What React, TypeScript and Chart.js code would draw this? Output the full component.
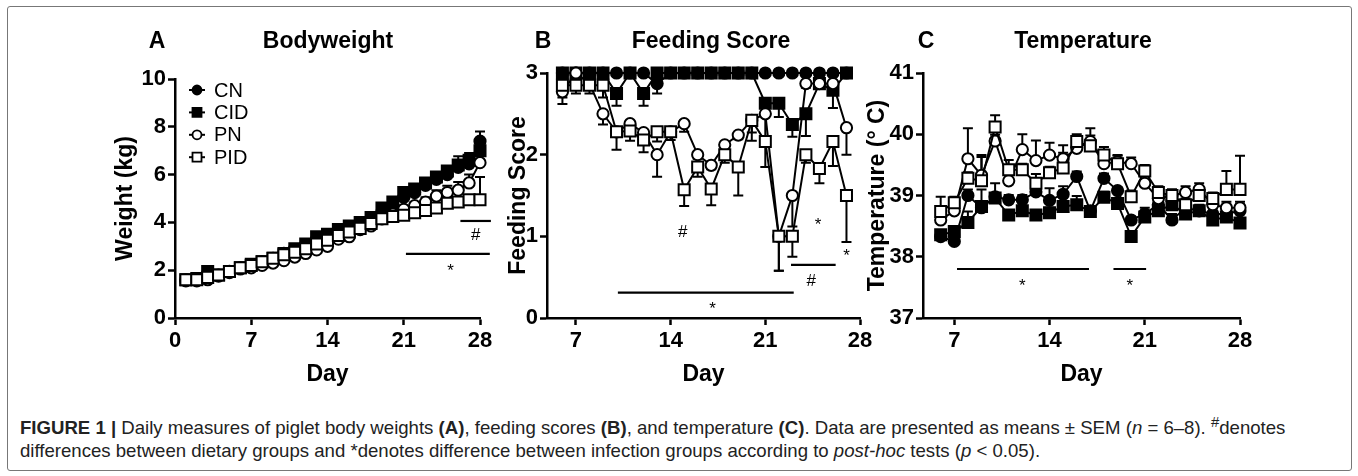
import React, { useEffect, useRef } from "react";
import { Chart, registerables } from "chart.js";
Chart.register(...registerables);

const SANS = '"Liberation Sans", Arial, Helvetica, sans-serif';

// ---------------- Panel A: Bodyweight (kg) ----------------
const daysA = [1, 2, 3, 4, 5, 6, 7, 8, 9, 10, 11, 12, 13, 14, 15, 16, 17, 18, 19, 20, 21, 22, 23, 24, 25, 26, 27, 28];
const cnWeight = [1.6, 1.6, 1.8, 1.8, 1.95, 2.1, 2.2, 2.35, 2.5, 2.7, 2.85, 3.05, 3.3, 3.4, 3.6, 3.75, 3.9, 4.15, 4.45, 4.7, 5.05, 5.25, 5.55, 5.8, 6.0, 6.3, 6.45, 7.4];
const cidWeight = [1.6, 1.65, 1.95, 1.8, 1.95, 2.1, 2.25, 2.35, 2.5, 2.7, 2.9, 3.1, 3.4, 3.5, 3.7, 3.85, 4.0, 4.2, 4.6, 4.85, 5.25, 5.4, 5.65, 5.9, 6.15, 6.4, 6.6, 7.0];
const pnWeight = [1.55, 1.55, 1.6, 1.75, 1.9, 2.05, 2.1, 2.2, 2.3, 2.4, 2.55, 2.7, 2.85, 3.0, 3.3, 3.4, 3.7, 3.85, 4.15, 4.35, 4.55, 4.7, 4.85, 5.1, 5.25, 5.35, 5.65, 6.5];
const pidWeight = [1.6, 1.6, 1.7, 1.8, 1.95, 2.1, 2.2, 2.35, 2.5, 2.65, 2.75, 2.9, 3.1, 3.25, 3.45, 3.6, 3.75, 3.95, 4.15, 4.25, 4.3, 4.4, 4.5, 4.6, 4.8, 4.85, 4.95, 4.95];
const cnWeightSem = [0.05, 0.05, 0.05, 0.05, 0.05, 0.05, 0.05, 0.05, 0.05, 0.05, 0.05, 0.05, 0.05, 0.05, 0.05, 0.05, 0.05, 0.05, 0.1, 0.1, 0.1, 0.1, 0.1, 0.15, 0.2, 0.3, 0.35, 0.4];
const cidWeightSem = [0.05, 0.05, 0.05, 0.05, 0.05, 0.05, 0.05, 0.05, 0.05, 0.05, 0.05, 0.05, 0.05, 0.05, 0.05, 0.05, 0.05, 0.05, 0.1, 0.1, 0.1, 0.1, 0.1, 0.15, 0.2, 0.37, 0.3, 0.35];
const pnWeightSem = [0.05, 0.05, 0.05, 0.05, 0.05, 0.05, 0.05, 0.05, 0.05, 0.05, 0.05, 0.05, 0.05, 0.05, 0.05, 0.05, 0.05, 0.05, 0.1, 0.1, 0.1, 0.15, 0.2, 0.25, 0.28, 0.34, 0.35, 0.3];
const pidWeightSem = [0.05, 0.05, 0.05, 0.05, 0.05, 0.05, 0.05, 0.05, 0.05, 0.05, 0.05, 0.05, 0.05, 0.05, 0.05, 0.05, 0.05, 0.05, 0.1, 0.1, 0.1, 0.1, 0.1, 0.1, 0.1, 0.1, 0.2, 0.95];
const weightTicksX = [0, 7, 14, 21, 28];
const weightTicksY = [0, 2, 4, 6, 8, 10];

// ---------------- Panel B: Feeding score ----------------
const daysB = [6, 7, 8, 9, 10, 11, 12, 13, 14, 15, 16, 17, 18, 19, 20, 21, 22, 23, 24, 25, 26, 27];
const cnFeed = [3, 3, 3, 3, 3, 3, 3, 2.87, 3, 3, 3, 3, 3, 3, 3, 3, 3, 3, 3, 3, 3, 3];
const cidFeed = [3, 3, 3, 3, 2.75, 3, 2.75, 3, 3, 3, 3, 3, 3, 3, 3, 2.63, 2.63, 2.37, 2.5, 2.87, 2.79, 3];
const pnFeed = [2.77, 3, 2.87, 2.5, 2.28, 2.38, 2.27, 2.0, 2.28, 2.38, 2.0, 1.87, 2.12, 2.24, 2.42, 2.5, 1.0, 1.5, 2.87, 2.87, 2.87, 2.33];
const pidFeed = [2.85, 2.85, 2.85, 2.85, 2.28, 2.29, 2.18, 2.28, 2.28, 1.57, 1.85, 1.58, 2.0, 1.85, 2.42, 2.16, 1.0, 1.0, 2.0, 1.83, 2.16, 1.5];
const cnFeedSem = [0, 0, 0, 0, 0, 0, 0, 0.12, 0, 0, 0, 0, 0, 0, 0, 0, 0, 0, 0, 0, 0, 0];
const cidFeedSem = [0, 0, 0, 0, 0.15, 0, 0.15, 0, 0, 0, 0, 0, 0, 0, 0, 0.1, 0.17, 0.15, 0.27, 0.05, 0.22, 0];
const pnFeedSem = [0.15, 0, 0.05, 0.13, 0.05, 0.05, 0.05, 0.27, 0.05, 0.1, 0.05, 0.05, 0.05, 0.05, 0.15, 0.3, 0.42, 0.38, 0.05, 0.05, 0.05, 0.33];
const pidFeedSem = [0.15, 0.1, 0.1, 0.15, 0.22, 0.12, 0.15, 0.12, 0.1, 0.2, 0.12, 0.2, 0.1, 0.35, 0.25, 0.31, 0.42, 0.25, 0.1, 0.18, 0.3, 0.57];
const feedTicksX = [7, 14, 21, 28];
const feedTicksY = [0, 1, 2, 3];

// ---------------- Panel C: Temperature ----------------
const daysC = [6, 7, 8, 9, 10, 11, 12, 13, 14, 15, 16, 17, 18, 19, 20, 21, 22, 23, 24, 25, 26, 27, 28];
const cnTemp = [38.33, 38.25, 39.0, 38.8, 38.98, 38.93, 38.93, 39.06, 38.92, 39.02, 39.31, 38.75, 39.28, 39.08, 38.6, 38.7, 38.85, 38.6, 38.8, 38.75, 38.7, 38.7, 38.75];
const cidTemp = [38.36, 38.41, 38.56, 38.82, 38.96, 38.68, 38.75, 38.68, 38.72, 38.82, 38.85, 38.74, 38.97, 38.87, 38.33, 38.65, 38.75, 38.85, 38.7, 38.75, 38.6, 38.65, 38.55];
const pnTemp = [38.6, 38.75, 39.6, 39.33, 39.89, 39.24, 39.75, 39.57, 39.66, 39.6, 39.77, 39.88, 39.52, 39.55, 39.52, 39.2, 38.95, 39.0, 39.05, 39.1, 38.85, 38.8, 38.8];
const pidTemp = [38.74, 38.88, 39.28, 39.24, 40.12, 39.42, 39.42, 39.2, 39.37, 39.45, 39.88, 39.81, 39.66, 39.52, 38.98, 39.4, 39.05, 39.0, 38.85, 39.0, 38.95, 39.1, 39.1];
const cnTempSem = [0.05, 0.05, 0.1, 0.1, 0.22, 0.08, 0.08, 0.08, 0.2, 0.13, 0.08, 0.08, 0.08, 0.05, 0.05, 0.1, 0.1, 0.1, 0.1, 0.1, 0.1, 0.1, 0.1];
const cidTempSem = [0.05, 0.05, 0.18, 0.28, 0.08, 0.08, 0.08, 0.08, 0.08, 0.08, 0.14, 0.08, 0.09, 0.08, 0.08, 0.08, 0.08, 0.08, 0.08, 0.08, 0.08, 0.08, 0.08];
const pnTempSem = [0.05, 0.1, 0.5, 0.3, 0.1, 0.1, 0.25, 0.33, 0.2, 0.1, 0.05, 0.1, 0.1, 0.1, 0.1, 0.2, 0.1, 0.1, 0.1, 0.1, 0.1, 0.1, 0.1];
const pidTempSem = [0.24, 0.1, 0.1, 0.42, 0.19, 0.16, 0.1, 0.15, 0.1, 0.37, 0.12, 0.29, 0.13, 0.14, 0.1, 0.1, 0.1, 0.1, 0.1, 0.1, 0.1, 0.3, 0.55];
const tempTicksX = [7, 14, 21, 28];
const tempTicksY = [37, 38, 39, 40, 41];

// ---------------- Groups & significance marks ----------------
const groupNames = ["CN", "CID", "PN", "PID"];
const groupShapes = ["circle", "rect", "circle", "rect"];
const groupFilled = [true, true, false, false];

const sigLinesA = [{ x1: 26.2, x2: 29.0, y: 4.06 }, { x1: 21.2, x2: 28.9, y: 2.68 }];
const sigTextA = [{ x: 27.6, y: 3.47, t: "#" }, { x: 25.3, y: 2.13, t: "*" }];
const sigLinesB = [{ x1: 10.1, x2: 23.1, y: 0.31 }, { x1: 22.9, x2: 26.2, y: 0.65 }];
const sigTextB = [
  { x: 17.1, y: 0.16, t: "*" }, { x: 14.9, y: 1.05, t: "#" }, { x: 24.4, y: 0.45, t: "#" },
  { x: 24.9, y: 1.18, t: "*" }, { x: 27.0, y: 0.8, t: "*" },
];
const sigLinesC = [{ x1: 7.2, x2: 16.9, y: 37.8 }, { x1: 18.7, x2: 21.1, y: 37.8 }];
const sigTextC = [{ x: 12.0, y: 37.59, t: "*" }, { x: 19.9, y: 37.59, t: "*" }];

function drawMark(ctx: CanvasRenderingContext2D, shape: string, filled: boolean, x: number, y: number, s: number) {
  ctx.beginPath();
  if (shape === "circle") ctx.arc(x, y, s / 2, 0, Math.PI * 2);
  else ctx.rect(x - s / 2, y - s / 2, s, s);
  ctx.fillStyle = filled ? "#000" : "#fff";
  ctx.fill();
  ctx.lineWidth = 1.8;
  ctx.strokeStyle = "#000";
  ctx.stroke();
}

const errorBarPlugin = {
  id: "errbars",
  beforeDatasetsDraw(chart: any, _a: any, opts: any) {
    const ctx = chart.ctx;
    const ys = chart.scales.y;
    const dir = opts.dir || 1;
    ctx.save();
    ctx.strokeStyle = "#000";
    ctx.lineWidth = 2;
    chart.data.datasets.forEach((ds: any, i: number) => {
      const meta = chart.getDatasetMeta(i);
      meta.data.forEach((pt: any, j: number) => {
        const e = ds.sem ? ds.sem[j] : 0;
        if (!e) return;
        const v = ds.data[j].y;
        const y2 = ys.getPixelForValue(v + dir * e);
        ctx.beginPath();
        ctx.moveTo(pt.x, pt.y);
        ctx.lineTo(pt.x, y2);
        ctx.moveTo(pt.x - 5, y2);
        ctx.lineTo(pt.x + 5, y2);
        ctx.stroke();
      });
    });
    ctx.restore();
  },
};

const annotPlugin = {
  id: "annot",
  afterDraw(chart: any, _a: any, o: any) {
    const ctx = chart.ctx;
    const xs = chart.scales.x;
    const ys = chart.scales.y;
    const ca = chart.chartArea;
    ctx.save();
    ctx.fillStyle = "#000";
    ctx.strokeStyle = "#000";
    ctx.textAlign = "center";
    ctx.textBaseline = "middle";
    ctx.font = `bold 23px ${SANS}`;
    ctx.fillText(o.letter, o.letterX - o.ox, o.titleY - o.oy);
    ctx.fillText(o.title, o.titleX - o.ox, o.titleY - o.oy);
    ctx.fillText("Day", (ca.left + ca.right) / 2, o.dayY - o.oy);
    ctx.save();
    ctx.translate(o.yTitleX - o.ox, (ca.top + ca.bottom) / 2);
    ctx.rotate(-Math.PI / 2);
    ctx.fillText(o.yTitle, 0, 0);
    ctx.restore();
    // significance lines
    ctx.lineWidth = 2.2;
    (o.lines || []).forEach((l: any) => {
      const y = ys.getPixelForValue(l.y);
      ctx.beginPath();
      ctx.moveTo(xs.getPixelForValue(l.x1), y);
      ctx.lineTo(xs.getPixelForValue(l.x2), y);
      ctx.stroke();
    });
    ctx.font = `17px ${SANS}`;
    (o.texts || []).forEach((t: any) => {
      const dy = t.t === "*" ? 4 : 0;
      ctx.fillText(t.t, xs.getPixelForValue(t.x), ys.getPixelForValue(t.y) + dy);
    });
    // legend
    if (o.legend) {
      ctx.textAlign = "left";
      ctx.font = `20px ${SANS}`;
      groupNames.forEach((n, i) => {
        const y = o.legend.y0 + i * o.legend.dy - o.oy;
        const x = o.legend.x - o.ox;
        ctx.lineWidth = 2;
        ctx.beginPath();
        ctx.moveTo(x - 8, y);
        ctx.lineTo(x + 8, y);
        ctx.stroke();
        drawMark(ctx, groupShapes[i], groupFilled[i], x, y, 9);
        ctx.fillStyle = "#000";
        ctx.fillText(n, x + 17, y + 1);
      });
    }
    ctx.restore();
  },
};

type Panel = {
  box: { left: number; top: number; width: number; height: number };
  area: { L: number; R: number; T: number; B: number };
  days: number[];
  series: number[][];
  sems: number[][];
  dir: number;
  xMin: number; xMax: number; yMin: number; yMax: number;
  xTicks: number[]; yTicks: number[];
  annot: any;
};

function makeChart(canvas: HTMLCanvasElement, p: Panel) {
  const order = [3, 2, 1, 0];
  const datasets = p.series.map((vals, i) => {
    const circle = groupShapes[i] === "circle";
    return {
      label: groupNames[i],
      data: vals.map((v, j) => ({ x: p.days[j], y: v })),
      sem: p.sems[i],
      borderColor: "#000",
      borderWidth: 2,
      backgroundColor: groupFilled[i] ? "#000" : "#fff",
      pointStyle: circle ? "circle" : "rect",
      pointRadius: circle ? 5.6 : 7.8,
      pointBorderWidth: 2,
      pointBorderColor: "#000",
      pointBackgroundColor: groupFilled[i] ? "#000" : "#fff",
      tension: 0,
      clip: false,
      order: order[i],
    };
  });
  const tickFont = { family: SANS, size: 22, weight: "bold" as const };
  const grid = { display: true, drawOnChartArea: false, drawTicks: true, tickLength: 7, tickColor: "#000", tickWidth: 2.5, color: "#000" };
  const border = { display: true, color: "#000", width: 2.5 };
  const ox = p.box.left, oy = p.box.top;
  return new Chart(canvas, {
    type: "line",
    data: { datasets: datasets as any },
    options: {
      animation: false,
      responsive: false,
      maintainAspectRatio: false,
      layout: { padding: { top: p.area.T - oy, right: ox + p.box.width - p.area.R, left: 0, bottom: 0 } },
      plugins: {
        legend: { display: false },
        tooltip: { enabled: false },
        title: { display: false },
        errbars: { dir: p.dir },
        annot: { ...p.annot, ox, oy },
      } as any,
      scales: {
        x: {
          type: "linear",
          min: p.xMin,
          max: p.xMax,
          afterBuildTicks: (s: any) => { s.ticks = p.xTicks.map((v) => ({ value: v })); },
          afterFit: (s: any) => { s.height = oy + p.box.height - p.area.B; },
          ticks: { color: "#000", font: tickFont, padding: 3, maxRotation: 0, autoSkip: false },
          grid, border,
        },
        y: {
          type: "linear",
          min: p.yMin,
          max: p.yMax,
          afterBuildTicks: (s: any) => { s.ticks = p.yTicks.map((v) => ({ value: v })); },
          afterFit: (s: any) => { s.width = p.area.L - ox; },
          ticks: { color: "#000", font: tickFont, padding: 2, autoSkip: false },
          grid, border,
        },
      },
    } as any,
    plugins: [errorBarPlugin, annotPlugin],
  });
}

const panels: Panel[] = [
  {
    box: { left: 95, top: 20, width: 405, height: 375 },
    area: { L: 175, R: 480, T: 79, B: 318 },
    days: daysA,
    series: [cnWeight, cidWeight, pnWeight, pidWeight],
    sems: [cnWeightSem, cidWeightSem, pnWeightSem, pidWeightSem],
    dir: 1,
    xMin: 0, xMax: 28, yMin: 0, yMax: 10,
    xTicks: weightTicksX, yTicks: weightTicksY,
    annot: {
      letter: "A", letterX: 157, title: "Bodyweight", titleX: 328, titleY: 42, dayY: 375,
      yTitle: "Weight (kg)", yTitleX: 126,
      lines: sigLinesA, texts: sigTextA,
      legend: { x: 197, y0: 90, dy: 22.4 },
    },
  },
  {
    box: { left: 490, top: 20, width: 390, height: 375 },
    area: { L: 547, R: 860, T: 73, B: 318 },
    days: daysB,
    series: [cnFeed, cidFeed, pnFeed, pidFeed],
    sems: [cnFeedSem, cidFeedSem, pnFeedSem, pidFeedSem],
    dir: -1,
    xMin: 4.86, xMax: 28, yMin: 0, yMax: 3,
    xTicks: feedTicksX, yTicks: feedTicksY,
    annot: {
      letter: "B", letterX: 543, title: "Feeding Score", titleX: 711, titleY: 42, dayY: 375,
      yTitle: "Feeding Score", yTitleX: 519,
      lines: sigLinesB, texts: sigTextB,
    },
  },
  {
    box: { left: 860, top: 20, width: 400, height: 375 },
    area: { L: 923, R: 1240, T: 73, B: 318 },
    days: daysC,
    series: [cnTemp, cidTemp, pnTemp, pidTemp],
    sems: [cnTempSem, cidTempSem, pnTempSem, pidTempSem],
    dir: 1,
    xMin: 4.7, xMax: 28, yMin: 37, yMax: 41,
    xTicks: tempTicksX, yTicks: tempTicksY,
    annot: {
      letter: "C", letterX: 926, title: "Temperature", titleX: 1083, titleY: 42, dayY: 375,
      yTitle: "Temperature (° C)", yTitleX: 878,
      lines: sigLinesC, texts: sigTextC,
    },
  },
];

function PanelCanvas({ p }: { p: Panel }) {
  const ref = useRef<HTMLCanvasElement | null>(null);
  useEffect(() => {
    if (!ref.current) return;
    const c = makeChart(ref.current, p);
    return () => c.destroy();
  }, [p]);
  return (
    <canvas
      ref={ref}
      width={p.box.width}
      height={p.box.height}
      style={{ position: "absolute", left: p.box.left, top: p.box.top, width: p.box.width, height: p.box.height }}
    />
  );
}

export default function App() {
  return (
    <div style={{ position: "absolute", left: 0, top: 0, width: 1358, height: 476, background: "#fff", overflow: "hidden" }}>
      <div style={{ position: "absolute", left: 7, top: 6, width: 1343, height: 463, border: "1px solid #777", borderRadius: 3 }} />
      {panels.map((p, i) => (
        <PanelCanvas key={i} p={p} />
      ))}
      <div
        style={{
          position: "absolute", left: 20, top: 416, whiteSpace: "nowrap",
          font: `18.6px ${SANS}`, lineHeight: "23px", color: "#222",
        }}
      >
        <b>FIGURE 1 |</b> Daily measures of piglet body weights <b>(A)</b>, feeding scores <b>(B)</b>, and temperature <b>(C)</b>. Data are presented as means ± SEM (<i>n</i> = 6–8). <sup style={{ fontSize: "0.8em", lineHeight: 0 }}>#</sup>denotes
        <br />
        differences between dietary groups and *denotes difference between infection groups according to <i>post-hoc</i> tests (<i>p</i> &lt; 0.05).
      </div>
    </div>
  );
}
